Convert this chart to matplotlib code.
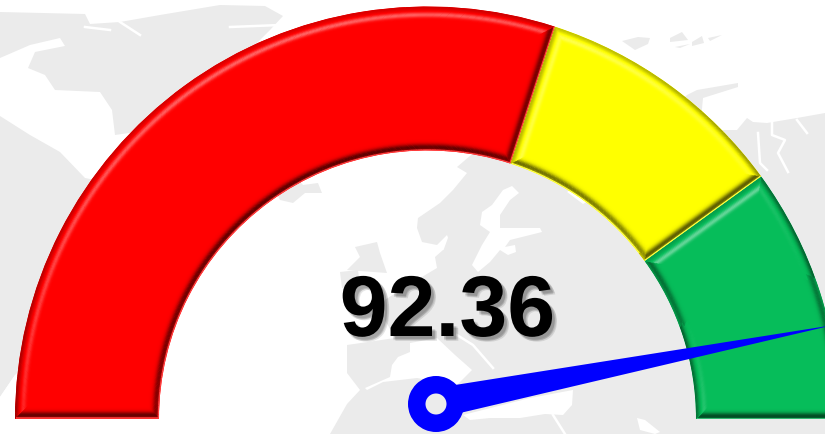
import numpy as np
import matplotlib
matplotlib.use('Agg')
import matplotlib.pyplot as plt
import matplotlib.patheffects as pe
from matplotlib.collections import LineCollection
from matplotlib.colors import to_rgb
from matplotlib.patches import Polygon, Wedge

# gauge values
band_names = ['red', 'yellow', 'green']
band_values = [60, 20, 20]
band_colors = ['#ff0000', '#ffff00', '#06bd5a']
needle_value = 92.36
value_label = '92.36'

W, H = 825, 434
LAND = '#ebebeb'
CENTER = (427.5, H - 419)
R_OUT, R_IN = 412.5, 268.5
LIGHT = np.array([-0.35, 0.94])

# background map, rough outlines in picture pixels
north_america = [(0, 12), (85, 14), (90, 24), (120, 22), (160, 15), (220, 5), (265, 6), (283, 16),
                 (270, 30), (240, 60), (150, 130), (115, 135), (112, 110), (100, 92), (55, 90),
                 (45, 75), (28, 68), (35, 52), (65, 46), (60, 38), (30, 45), (0, 58)]
usa = [(0, 116), (30, 135), (60, 152), (85, 178), (200, 200), (150, 250), (60, 330), (15, 375),
       (0, 397)]
hudson_south = [(280, 200), (293, 203), (305, 193), (322, 193), (318, 183), (303, 185), (290, 170),
                (270, 180)]
britain = [(355, 247), (377, 242), (380, 253), (387, 273), (347, 270), (360, 257)]
ireland = [(340, 272), (358, 270), (360, 285), (342, 288)]
scandinavia = [(457, 167), (477, 150), (500, 150), (560, 250), (470, 290), (450, 275), (437, 268),
               (435, 257), (443, 250), (453, 250), (447, 235), (437, 245), (422, 242), (417, 228),
               (418, 218), (440, 203), (453, 190), (467, 173)]
eurasia = [(480, 150), (700, 130), (737, 130), (747, 118), (753, 122), (767, 123), (797, 118),
           (825, 113), (825, 434), (330, 434), (347, 404), (360, 390), (347, 373), (347, 345),
           (395, 338), (385, 320), (385, 300), (400, 290), (437, 268)]
siberia_arm = [(660, 120), (687, 95), (697, 90), (738, 83), (738, 87), (703, 98), (700, 130)]
islands = [[(622, 41), (638, 37), (650, 38), (648, 44), (635, 50)],
           [(670, 38), (682, 32), (688, 40), (670, 42)],
           [(692, 42), (702, 36), (704, 43), (692, 46)],
           [(708, 38), (722, 35), (710, 41)],
           [(675, 47), (690, 44), (680, 48)]]
seas = [[(365, 388), (390, 377), (392, 365), (398, 357), (410, 352), (410, 343), (437, 338),
         (455, 355), (472, 370), (457, 385), (417, 378), (383, 382), (367, 390)],
        [(463, 415), (530, 398), (573, 390), (572, 405), (563, 415), (545, 414), (520, 418),
         (490, 418), (470, 420)],
        [(637, 418), (645, 420), (660, 432), (655, 434), (640, 430)],
        [(503, 190), (512, 186), (519, 193), (510, 200), (500, 215), (500, 228), (540, 228),
         (542, 232), (510, 240), (505, 247), (515, 245), (516, 252), (508, 255), (500, 250),
         (490, 262), (478, 272), (472, 265), (482, 245), (490, 232), (480, 225), (482, 212),
         (492, 205)],
        [(567, 192), (573, 188), (590, 200), (583, 204)],
        [(0, 397), (15, 375), (15, 400)]]
channels = [[(85, 27), (110, 30)], [(120, 22), (140, 35)], [(230, 27), (280, 25)],
            [(457, 335), (473, 345), (493, 368)], [(553, 415), (565, 434)],
            [(758, 133), (760, 163), (767, 170)],
            [(772, 123), (772, 135), (785, 140), (778, 153), (788, 172)],
            [(797, 120), (807, 133)]]


def flip(points):
    return [(x, H - y) for x, y in points]


def tint(color, amount):
    rgb = np.array(to_rgb(color))
    if amount > 0:
        return tuple(rgb + (1 - rgb) * min(amount, 1))
    return tuple(rgb * (1 + max(amount, -1)))


def edge_amount(normal, d):
    f = np.dot(normal, LIGHT)
    if f > 0:
        rim = -(0.5 - 0.35 * f) * np.exp(-(d / 3.5) ** 2)
        return rim + 0.4 * f * np.exp(-((d - 8) / 2.5) ** 2)
    if f < -0.3 and d < 1:
        return 0.25    # pale line along the shaded edges
    return -(0.35 + 0.3 * abs(f)) * np.exp(-((d - 3) / 3.5) ** 2)


def draw_band(ax, theta1, theta2, color):
    cx, cy = CENTER
    wedge = Wedge(CENTER, R_OUT, theta1, theta2, width=R_OUT - R_IN, facecolor=color, edgecolor='none', zorder=3)
    ax.add_patch(wedge)
    segs, cols = [], []
    for d in np.arange(13.5, 0, -1.0):
        for r, sign in ((R_OUT - d, 1), (R_IN + d, -1)):
            off = np.degrees(d / r)
            angles = np.radians(np.arange(theta1 + off, theta2 - off + 1, 1.0).clip(max=theta2 - off))
            for a, b in zip(angles[:-1], angles[1:]):
                segs.append([(cx + r * np.cos(a), cy + r * np.sin(a)), (cx + r * np.cos(b), cy + r * np.sin(b))])
                mid = (a + b) / 2
                cols.append(tint(color, edge_amount(sign * np.array([np.cos(mid), np.sin(mid)]), d)))
        for theta, sign in ((theta1, -1), (theta2, 1)):
            normal = sign * np.array([-np.sin(np.radians(theta)), np.cos(np.radians(theta))])
            radial = np.array([np.cos(np.radians(theta)), np.sin(np.radians(theta))])
            p0 = np.array(CENTER) + radial * (R_IN + d) - normal * d
            p1 = np.array(CENTER) + radial * (R_OUT - d) - normal * d
            segs.append([tuple(p0), tuple(p1)])
            cols.append(tint(color, edge_amount(normal, d)))
    lines = LineCollection(segs, colors=cols, linewidths=1.1, capstyle='butt', zorder=4)
    ax.add_collection(lines)
    lines.set_clip_path(wedge)


fig = plt.figure(figsize=(W / 100, H / 100), dpi=100)
ax = fig.add_axes([0, 0, 1, 1])
ax.set_xlim(0, W)
ax.set_ylim(0, H)
ax.axis('off')

for shape in [north_america, usa, hudson_south, britain, ireland, scandinavia, eurasia, siberia_arm] + islands:
    ax.add_patch(Polygon(flip(shape), facecolor=LAND, edgecolor='none', zorder=1))
for shape in seas:
    ax.add_patch(Polygon(flip(shape), facecolor='white', edgecolor='none', zorder=2))
for line in channels:
    xs, ys = zip(*flip(line))
    ax.plot(xs, ys, color='white', lw=1.8, zorder=2)

total = sum(band_values)
start = 180.0
for value, color in zip(band_values, band_colors):
    end = start - 180.0 * value / total
    draw_band(ax, end, start, color)
    start = end

shadow = [pe.SimplePatchShadow(offset=o, shadow_rgbFace='k', alpha=0.1) for o in [(3.5, -3.5), (3, -2.5), (2, -3), (2, -2)]]
ax.text(447.5, H - 336, value_label, fontsize=62, fontweight='bold', family='Liberation Sans',
        ha='center', va='baseline', color='black', zorder=6, path_effects=shadow + [pe.Normal()])

# needle
angle = np.radians(180.0 * (1 - needle_value / total))
pivot = (429, H - 424)
tip = (pivot[0] + 416 * np.cos(angle), pivot[1] + 416 * np.sin(angle))
hub = (436, H - 404)
ax.add_patch(Polygon(flip([(455, 385), (460, 413)]) + [tip], facecolor='#0000ff', edgecolor='none', zorder=7))
ax.add_patch(Wedge(hub, 28, 0, 360, width=17.5, facecolor='#0000ff', edgecolor='none', zorder=8))

fig.savefig('out.png', dpi=100)
